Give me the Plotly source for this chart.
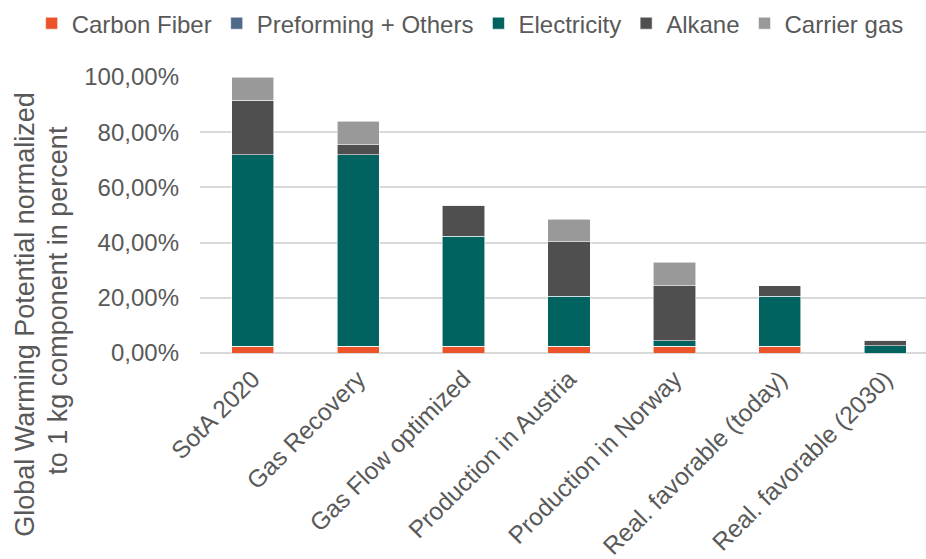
import plotly.graph_objects as go

categories = ["SotA 2020", "Gas Recovery", "Gas Flow optimized", "Production in Austria",
              "Production in Norway", "Real. favorable (today)", "Real. favorable (2030)"]
carbon_fiber = [2.2, 2.2, 2.2, 2.2, 2.2, 2.2, 0.0]
preforming = [0.2, 0.2, 0.2, 0.2, 0.2, 0.2, 0.0]
electricity = [69.5, 69.5, 39.9, 18.1, 2.1, 18.1, 2.6]
alkane = [19.7, 3.6, 11.2, 19.8, 19.8, 3.8, 2.0]
carrier_gas = [8.4, 8.4, 0.0, 8.2, 8.5, 0.0, 0.0]
y_tick_values = [0, 20, 40, 60, 80, 100]
y_tick_labels = ["0,00%", "20,00%", "40,00%", "60,00%", "80,00%", "100,00%"]
y_title_lines = ["Global Warming Potential normalized", "to 1 kg component in percent"]

series = [
    ("Carbon Fiber", carbon_fiber, "#EC5328"),
    ("Preforming + Others", preforming, "#4E6A88"),
    ("Electricity", electricity, "#00635F"),
    ("Alkane", alkane, "#4F4F4F"),
    ("Carrier gas", carrier_gas, "#999999"),
]

font_color = "#595959"
fig = go.Figure()
for name, vals, color in series:
    fig.add_trace(go.Bar(
        x=categories, y=vals, name=name, width=0.4,
        marker=dict(color=color, line=dict(color="rgba(255,255,255,0.7)", width=0.8)),
    ))

fig.update_layout(
    width=926, height=559,
    barmode="stack",
    plot_bgcolor="white", paper_bgcolor="white",
    margin=dict(l=200, r=0, t=77, b=206, autoexpand=False),
    font=dict(family="Liberation Sans, Arial, sans-serif", size=24, color=font_color),
    showlegend=True,
    legend=dict(orientation="h", x=(32 - 200.3) / 725.7, xanchor="left",
                y=(352.7 - 24) / 275.4, yanchor="middle",
                traceorder="normal", font=dict(size=24, color=font_color),
                itemwidth=30, bgcolor="rgba(0,0,0,0)"),
    xaxis=dict(range=[-0.5, 6.386], tickangle=-45, showgrid=False, showline=False,
               ticks="", ticklabelstandoff=6, tickfont=dict(size=24.5, color=font_color)),
    yaxis=dict(range=[0, 100], tickvals=y_tick_values, ticktext=y_tick_labels,
               showgrid=True, gridcolor="#D9D9D9", gridwidth=1.5,
               zeroline=True, zerolinecolor="#D9D9D9", zerolinewidth=1.5,
               showline=False, ticklabelstandoff=20,
               tickfont=dict(size=24, color=font_color)),
    annotations=[
        dict(text=y_title_lines[0], xref="paper", yref="paper",
             x=(26 - 200.3) / 725.7, y=(352.7 - 314) / 275.4,
             xanchor="center", yanchor="middle", textangle=-90, showarrow=False,
             font=dict(size=27, color=font_color)),
        dict(text=y_title_lines[1], xref="paper", yref="paper",
             x=(59 - 200.3) / 725.7, y=(352.7 - 300) / 275.4,
             xanchor="center", yanchor="middle", textangle=-90, showarrow=False,
             font=dict(size=27, color=font_color)),
    ],
)

fig.write_html("out.html")
